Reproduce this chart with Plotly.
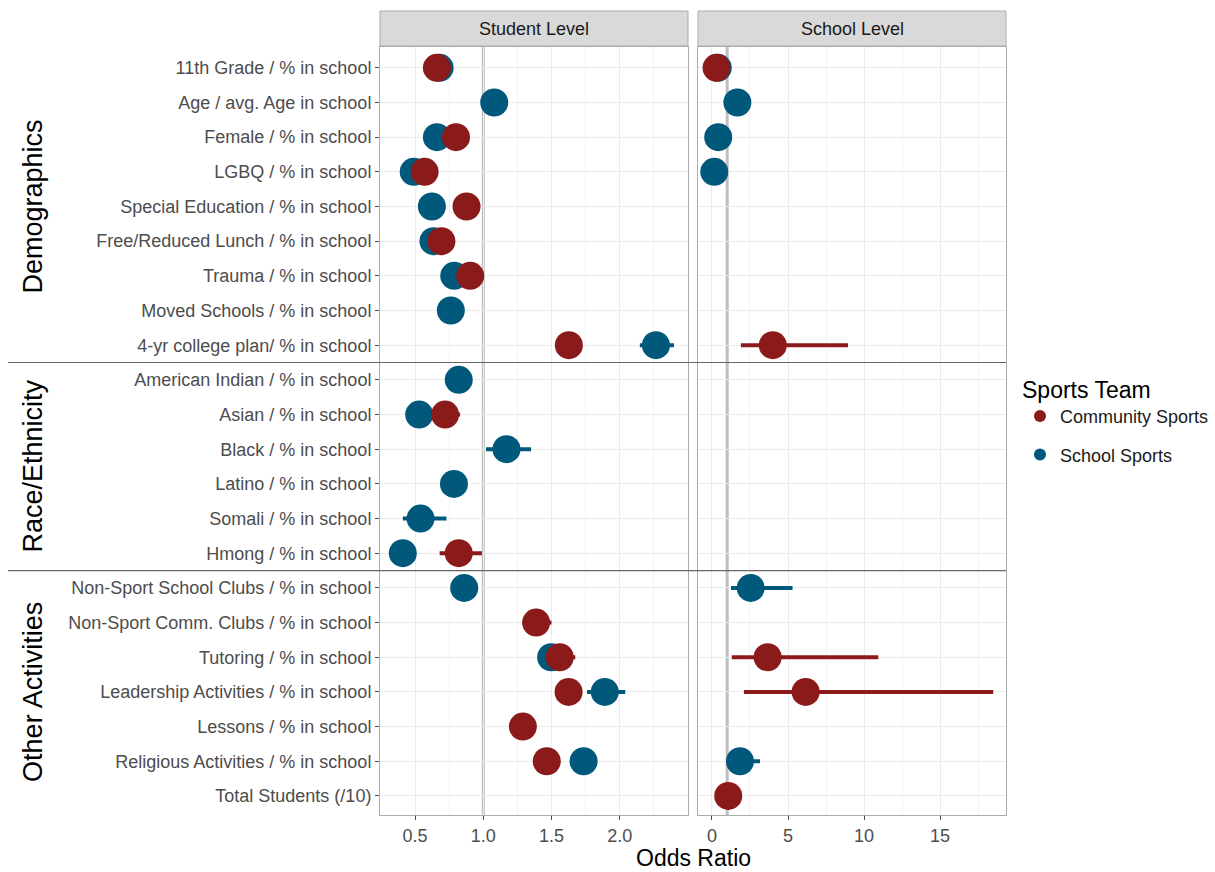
import plotly.graph_objects as go

W, H = 1215, 872

categories = [
    "11th Grade / % in school", "Age / avg. Age in school", "Female / % in school",
    "LGBQ / % in school", "Special Education / % in school", "Free/Reduced Lunch / % in school",
    "Trauma / % in school", "Moved Schools / % in school", "4-yr college plan/ % in school",
    "American Indian / % in school", "Asian / % in school", "Black / % in school",
    "Latino / % in school", "Somali / % in school", "Hmong / % in school",
    "Non-Sport School Clubs / % in school", "Non-Sport Comm. Clubs / % in school",
    "Tutoring / % in school", "Leadership Activities / % in school", "Lessons / % in school",
    "Religious Activities / % in school", "Total Students (/10)",
]
group_names = ["Demographics", "Race/Ethnicity", "Other Activities"]
group_sizes = [9, 6, 7]

# Student level
stu_comm = [0.66, None, 0.80, 0.57, 0.877, 0.693, 0.904, None, 1.627, None, 0.72, None,
            None, None, 0.82, None, 1.387, 1.56, 1.625, 1.29, 1.465, None]
stu_comm_lo = [None, None, None, None, None, None, None, None, None, None, 0.62, None,
               None, None, 0.68, None, 1.30, 1.46, None, None, None, None]
stu_comm_hi = [None, None, None, None, None, None, None, None, None, None, 0.83, None,
               None, None, 0.99, None, 1.50, 1.674, None, None, None, None]
stu_school = [0.68, 1.08, 0.66, 0.49, 0.623, 0.635, 0.787, 0.762, 2.265, 0.82, 0.53, 1.17,
              0.785, 0.54, 0.41, 0.86, None, 1.497, 1.89, None, 1.735, None]
stu_school_lo = [None, None, None, None, None, None, None, None, 2.147, None, None, 1.02,
                 None, 0.41, None, None, None, None, 1.76, None, None, None]
stu_school_hi = [None, None, None, None, None, None, None, None, 2.397, None, None, 1.35,
                 None, 0.73, None, None, None, None, 2.04, None, None, None]

# School level
sch_comm = [0.30, None, None, None, None, None, None, None, 4.0, None, None, None,
            None, None, None, None, None, 3.66, 6.16, None, None, 1.07]
sch_comm_lo = [None, None, None, None, None, None, None, None, 1.9, None, None, None,
               None, None, None, None, None, 1.3, 2.1, None, None, None]
sch_comm_hi = [None, None, None, None, None, None, None, None, 8.95, None, None, None,
               None, None, None, None, None, 10.94, 18.5, None, None, None]
sch_school = [0.38, 1.67, 0.41, 0.15, None, None, None, None, None, None, None, None,
              None, None, None, 2.55, None, None, None, None, 1.84, None]
sch_school_lo = [None, None, None, None, None, None, None, None, None, None, None, None,
                 None, None, None, 1.25, None, None, None, None, 1.1, None]
sch_school_hi = [None, None, None, None, None, None, None, None, None, None, None, None,
                 None, None, None, 5.3, None, None, None, None, 3.16, None]

colors = {"Community Sports": "#8B1A1A", "School Sports": "#00587A"}

FONT = "Liberation Sans, Arial, Helvetica, sans-serif"


def err(vals, lo, hi):
    plus, minus = [], []
    for v, l, h in zip(vals, lo, hi):
        if v is None:
            plus.append(None); minus.append(None)
        else:
            plus.append((h - v) if h is not None else 0)
            minus.append((v - l) if l is not None else 0)
    return plus, minus


fig = go.Figure()

panels = [
    ("x", "y", {"School Sports": (stu_school, stu_school_lo, stu_school_hi),
                "Community Sports": (stu_comm, stu_comm_lo, stu_comm_hi)}),
    ("x2", "y2", {"School Sports": (sch_school, sch_school_lo, sch_school_hi),
                  "Community Sports": (sch_comm, sch_comm_lo, sch_comm_hi)}),
]

for pi, (xa, ya, data) in enumerate(panels):
    for name in ["School Sports", "Community Sports"]:
        vals, lo, hi = data[name]
        plus, minus = err(vals, lo, hi)
        fig.add_trace(go.Scatter(
            x=vals, y=categories, xaxis=xa, yaxis=ya, mode="markers",
            name=name, legendgroup=name, showlegend=(pi == 0),
            legendrank=1 if name == "Community Sports" else 2,
            marker=dict(size=28, color=colors[name], line=dict(width=0)),
            error_x=dict(type="data", symmetric=False, array=plus, arrayminus=minus,
                         color=colors[name], thickness=4, width=0),
            cliponaxis=False,
        ))

x1d = [380 / W, 688 / W]
x2d = [698 / W, 1006 / W]
ytop, ybot = 47, 815
yd = [(H - ybot) / H, (H - ytop) / H]
yrange = [21.55, -0.6]

grid_major = "#EBEBEB"
grid_minor = "#F5F5F5"
border = "#ABABAB"

common_x = dict(showgrid=True, gridcolor=grid_major, gridwidth=1, zeroline=False,
                showline=True, mirror=True, linecolor=border, linewidth=1,
                ticks="outside", ticklen=4, tickcolor="#4D4D4D",
                tickfont=dict(family=FONT, size=18, color="#4D4D4D"))

fig.update_layout(
    width=W, height=H, margin=dict(l=0, r=0, t=0, b=0, autoexpand=False),
    paper_bgcolor="white", plot_bgcolor="white",
    font=dict(family=FONT),
    xaxis=dict(domain=x1d, anchor="y", range=[0.243, 2.5], tickvals=[0.5, 1.0, 1.5, 2.0],
               tickformat=".1f",
               minor=dict(tick0=0.25, dtick=0.5, showgrid=True, gridcolor=grid_minor),
               **common_x),
    xaxis2=dict(domain=x2d, anchor="y2", range=[-0.92, 19.34], tickvals=[0, 5, 10, 15],
                minor=dict(tick0=2.5, dtick=5, showgrid=True, gridcolor=grid_minor),
                **common_x),
    yaxis=dict(domain=yd, anchor="x", type="category", categoryorder="array",
               categoryarray=categories, range=yrange, autorange=False,
               showgrid=True, gridcolor=grid_major, showline=True, mirror=True,
               linecolor=border, ticks="outside", ticklen=4, tickcolor="#4D4D4D",
               tickfont=dict(family=FONT, size=18, color="#4D4D4D")),
    yaxis2=dict(domain=yd, anchor="x2", type="category", categoryorder="array",
                categoryarray=categories, range=yrange, autorange=False,
                showticklabels=False, showgrid=True, gridcolor=grid_major, showline=True,
                mirror=True, linecolor=border, ticks=""),
    legend=dict(x=1020 / W, y=(H - 368) / H, xanchor="left", yanchor="top",
                title=dict(text="Sports Team", font=dict(family=FONT, size=23, color="black")),
                font=dict(family=FONT, size=18, color="#1A1A1A"),
                bgcolor="rgba(0,0,0,0)", itemsizing="constant", tracegroupgap=12),
    showlegend=True,
)

shapes = []
# reference lines at odds ratio 1
for xa in ["x", "x2"]:
    shapes.append(dict(type="line", xref=xa, yref="paper", x0=1, x1=1, y0=yd[0], y1=yd[1],
                       line=dict(color="#BEBEBE", width=3), layer="below"))
# group separators
start = 0
bounds = []
for s in group_sizes[:-1]:
    start += s
    bounds.append(start - 0.5)
for b in bounds:
    shapes.append(dict(type="line", xref="paper", yref="y", x0=8 / W, x1=1006 / W,
                       y0=b, y1=b, line=dict(color="#666666", width=1.2), layer="above"))
# strips
for d in [x1d, x2d]:
    shapes.append(dict(type="rect", xref="paper", yref="paper", x0=d[0], x1=d[1],
                       y0=(H - 46) / H, y1=(H - 11) / H, fillcolor="#D9D9D9",
                       line=dict(color=border, width=1), layer="above"))
fig.update_layout(shapes=shapes)

ann = []
for d, txt in zip([x1d, x2d], ["Student Level", "School Level"]):
    ann.append(dict(x=(d[0] + d[1]) / 2, y=(H - 28.5) / H, xref="paper", yref="paper",
                    text=txt, showarrow=False, xanchor="center", yanchor="middle",
                    font=dict(family=FONT, size=18, color="#1A1A1A")))
# group labels
start = 0
for name, s in zip(group_names, group_sizes):
    center = start + (s - 1) / 2
    ann.append(dict(x=33 / W, y=center, xref="paper", yref="y",
                    text=name, showarrow=False, textangle=-90, xanchor="center",
                    yanchor="middle", font=dict(family=FONT, size=27, color="black")))
    start += s
ann.append(dict(x=693 / W, y=(H - 858) / H, xref="paper", yref="paper", text="Odds Ratio",
                showarrow=False, xanchor="center", yanchor="middle",
                font=dict(family=FONT, size=23, color="black")))
fig.update_layout(annotations=ann)

fig.write_html("out.html", config={"displayModeBar": False},
               post_script="document.body.style.margin='0';")
